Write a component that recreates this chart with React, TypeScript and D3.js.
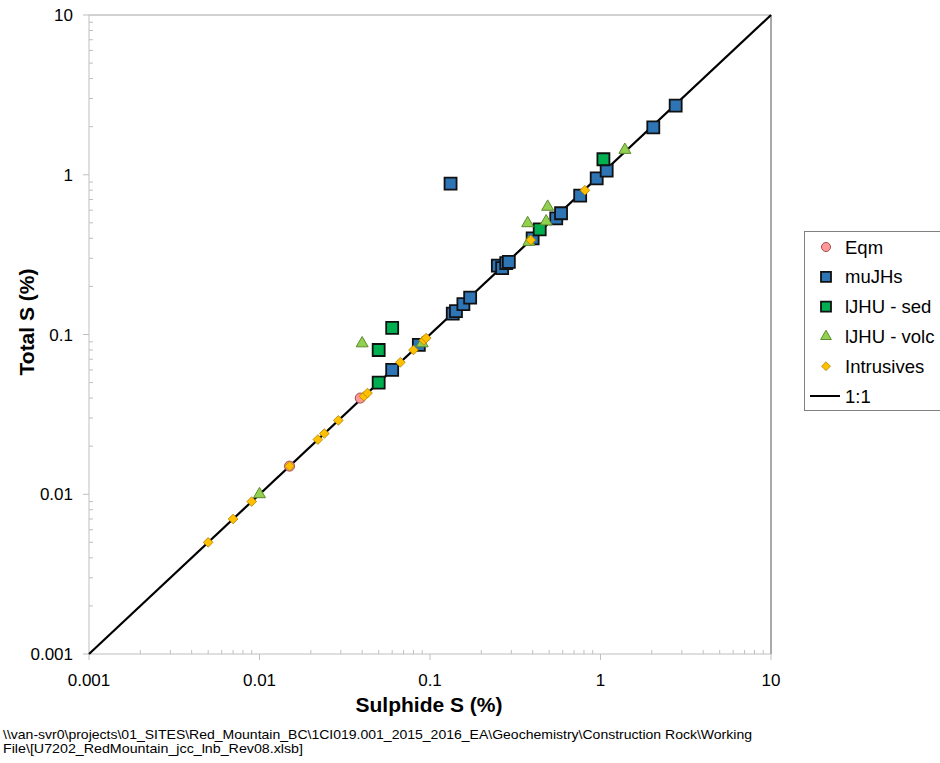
import React from 'react';
import * as d3 from 'd3';

// series values: [sulphide S %, total S %]
const eqm: [number, number][] = [[0.015, 0.015], [0.039, 0.04]];
const muJHs: [number, number][] = [
    [0.132, 0.88], [0.06, 0.06], [0.086, 0.086], [0.136, 0.135], [0.142, 0.14],
    [0.157, 0.155], [0.172, 0.17], [0.25, 0.27], [0.265, 0.26], [0.28, 0.28],
    [0.29, 0.285], [0.40, 0.40], [0.55, 0.534], [0.587, 0.574], [0.76, 0.74],
    [0.95, 0.95], [1.087, 1.06], [2.04, 1.98], [2.76, 2.71],
];
const ijhuSed: [number, number][] = [[0.06, 0.11], [0.05, 0.08], [0.05, 0.05], [0.44, 0.455], [1.04, 1.25]];
const ijhuVolc: [number, number][] = [
    [0.04, 0.088], [0.01, 0.01], [0.09, 0.088], [0.38, 0.38], [0.374, 0.497],
    [0.48, 0.51], [0.49, 0.63], [1.39, 1.43],
];
const intrusives: [number, number][] = [
    [0.005, 0.005], [0.007, 0.007], [0.009, 0.009], [0.015, 0.015], [0.022, 0.022],
    [0.024, 0.024], [0.029, 0.029], [0.041, 0.041], [0.043, 0.043], [0.067, 0.067],
    [0.08, 0.08], [0.092, 0.092], [0.095, 0.095], [0.39, 0.39], [0.81, 0.80],
];
const oneToOne: [number, number][] = [[0.001, 0.001], [10, 10]];
const majorTicks = [0.001, 0.01, 0.1, 1, 10];
const tickLabels = ['0.001', '0.01', '0.1', '1', '10'];

const legendNames = ['Eqm', 'muJHs', 'lJHU - sed', 'lJHU - volc', 'Intrusives', '1:1'];

const FONT = 'Arial, "Liberation Sans", sans-serif';

const x = d3.scaleLog().domain([0.001, 10]).range([89, 771]);
const y = d3.scaleLog().domain([0.001, 10]).range([654, 15]);

const minorTicks: number[] = [];
for (let e = -3; e < 1; e++) {
    for (let k = 2; k <= 9; k++) minorTicks.push(k * Math.pow(10, e));
}

const sym = {
    circle: d3.symbol().type(d3.symbolCircle).size(80)(),
    square: d3.symbol().type(d3.symbolSquare).size(144)(),
    triangle: d3.symbol().type(d3.symbolTriangle).size(62)(),
    diamond: d3.symbol().type(d3.symbolDiamond2).size(60)(),
};
const legendSym = {
    circle: d3.symbol().type(d3.symbolCircle).size(64)(),
    square: d3.symbol().type(d3.symbolSquare).size(100)(),
    triangle: d3.symbol().type(d3.symbolTriangle).size(50)(),
    diamond: d3.symbol().type(d3.symbolDiamond2).size(50)(),
};

const series = [
    { data: eqm, shape: 'circle', fill: '#FF9999', stroke: '#A05050', sw: 1 },
    { data: muJHs, shape: 'square', fill: '#2E75B6', stroke: '#111111', sw: 1.8 },
    { data: ijhuSed, shape: 'square', fill: '#00B050', stroke: '#111111', sw: 1.8 },
    { data: ijhuVolc, shape: 'triangle', fill: '#92D050', stroke: '#5E8A30', sw: 1 },
    { data: intrusives, shape: 'diamond', fill: '#FFC000', stroke: '#B08000', sw: 0.8 },
] as const;

const line = d3.line<[number, number]>().x(d => x(d[0])).y(d => y(d[1]));

export default function App() {
    return (
        <svg width={940} height={763} style={{ position: 'absolute', left: 0, top: 0, background: '#fff' }}>
            {/* plot frame */}
            <line x1={89} x2={771} y1={15} y2={15} stroke="#a6a6a6" strokeWidth={1} />
            <line x1={771} x2={771} y1={15} y2={654} stroke="#555" strokeWidth={1} />
            <line x1={89} x2={89} y1={15} y2={654} stroke="#bfbfbf" strokeWidth={1} />
            <line x1={89} x2={771} y1={654} y2={654} stroke="#bfbfbf" strokeWidth={1} />

            {/* ticks */}
            {majorTicks.map(t => (
                <g key={'mt' + t}>
                    <line x1={x(t)} x2={x(t)} y1={654} y2={660} stroke="#bfbfbf" />
                    <line x1={83} x2={89} y1={y(t)} y2={y(t)} stroke="#bfbfbf" />
                </g>
            ))}
            {minorTicks.map(t => (
                <g key={'mn' + t}>
                    <line x1={x(t)} x2={x(t)} y1={650} y2={654} stroke="#bfbfbf" />
                    <line x1={89} x2={93} y1={y(t)} y2={y(t)} stroke="#bfbfbf" />
                </g>
            ))}
            {majorTicks.map((t, i) => (
                <g key={'lb' + t} fontFamily={FONT} fontSize={17} fill="#000">
                    <text x={x(t)} y={686} textAnchor="middle">{tickLabels[i]}</text>
                    <text x={73} y={y(t) + 6} textAnchor="end">{tickLabels[i]}</text>
                </g>
            ))}

            {/* axis titles */}
            <text x={429} y={712} textAnchor="middle" fontFamily={FONT} fontSize={21} fontWeight="bold">Sulphide S (%)</text>
            <text transform="translate(34,322) rotate(-90)" textAnchor="middle" fontFamily={FONT} fontSize={21} fontWeight="bold">Total S (%)</text>

            {/* 1:1 line */}
            <path d={line(oneToOne) ?? ''} stroke="#000" strokeWidth={2.2} fill="none" />

            {/* markers */}
            {series.map((s, si) => (
                <g key={'s' + si}>
                    {s.data.map((d, i) => (
                        <path key={i} d={sym[s.shape] ?? ''} transform={`translate(${x(d[0])},${y(d[1])})`}
                            fill={s.fill} stroke={s.stroke} strokeWidth={s.sw} />
                    ))}
                </g>
            ))}

            {/* legend */}
            <rect x={804.5} y={231.5} width={150} height={179} fill="#fff" stroke="#808080" />
            {legendNames.map((name, i) => {
                const ly = 247 + i * 29.8;
                const s = series[i];
                return (
                    <g key={'lg' + i}>
                        {s ? (
                            <path d={legendSym[s.shape] ?? ''} transform={`translate(826,${ly})`}
                                fill={s.fill} stroke={s.stroke} strokeWidth={s.sw} />
                        ) : (
                            <line x1={810} x2={840} y1={ly} y2={ly} stroke="#000" strokeWidth={2} />
                        )}
                        <text x={845} y={ly + 6.5} fontFamily={FONT} fontSize={18.5}>{name}</text>
                    </g>
                );
            })}

            {/* file path footer */}
            <g fontFamily={FONT} fontSize={13} fill="#000">
                <text x={3} y={739} textLength={749} lengthAdjust="spacingAndGlyphs">{'\\\\van-svr0\\projects\\01_SITES\\Red_Mountain_BC\\1CI019.001_2015_2016_EA\\Geochemistry\\Construction Rock\\Working'}</text>
                <text x={3} y={753} textLength={300} lengthAdjust="spacingAndGlyphs">{'File\\[U7202_RedMountain_jcc_lnb_Rev08.xlsb]'}</text>
            </g>
        </svg>
    );
}
